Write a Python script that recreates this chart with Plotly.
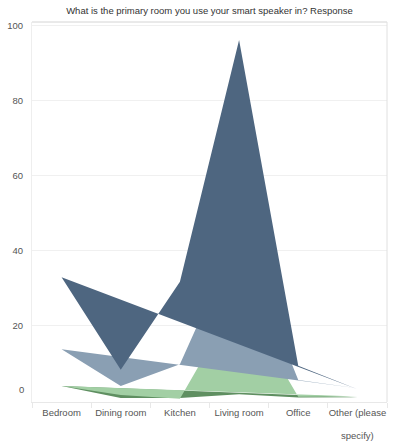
import plotly.graph_objects as go

categories = ["Bedroom", "Dining room", "Kitchen", "Living room", "Office", "Other (please specify)"]
tick_labels = ["Bedroom", "Dining room", "Kitchen", "Living room", "Office", "Other (please"]
tick_label_continuation = "specify)"

series_dark_green = [4.0, 0.8, 0.8, 1.8, 0.9, 1.0]
series_light_green = [4.0, 1.6, 0.6, 28.0, 1.1, 1.2]
series_light_slate = [13.8, 4.0, 9.8, 45.0, 5.6, 3.4]
series_dark_slate = [33.0, 8.3, 31.8, 96.2, 9.4, 3.1]

colors = {
    "dark_green": "#5f8f61",
    "light_green": "#a2cfa4",
    "light_slate": "#8a9fb3",
    "dark_slate": "#4e6680",
}

fig = go.Figure()
for name, vals in [("dark_green", series_dark_green), ("light_green", series_light_green),
                   ("light_slate", series_light_slate), ("dark_slate", series_dark_slate)]:
    fig.add_trace(go.Scatter(
        x=categories, y=vals, mode="lines", fill="toself",
        fillcolor=colors[name], line=dict(width=0, color=colors[name]),
        showlegend=False, hoverinfo="skip",
    ))

font_family = "Liberation Sans, Arial, sans-serif"

fig.update_layout(
    width=393, height=443,
    margin=dict(l=32, r=6, t=22, b=41, autoexpand=False),
    paper_bgcolor="white", plot_bgcolor="white",
    font=dict(family=font_family, size=9.5, color="#555"),
    title=dict(text="What is the primary room you use your smart speaker in? Response",
               x=0.5, xref="paper", xanchor="center", y=1, yref="container",
               yanchor="top", pad=dict(t=7),
               font=dict(family=font_family, size=9.5, color="#333")),
    xaxis=dict(
        type="category", categoryorder="array", categoryarray=categories,
        tickmode="array", tickvals=categories, ticktext=tick_labels,
        range=[-0.5, 5.5], showgrid=False, zeroline=False, automargin=False,
        tickangle=0,
        showline=True, linecolor="#e8e8e8", linewidth=1,
        ticks="outside", tickson="boundaries", ticklen=5, tickcolor="#e8e8e8",
        ticklabelstandoff=2,
        tickfont=dict(size=9.5, color="#555"),
    ),
    yaxis=dict(
        range=[-0.27, 101.0], tickmode="array", tickvals=[20, 40, 60, 80, 100],
        showgrid=True, gridcolor="#f0f0f0", gridwidth=1, zeroline=False,
        automargin=False,
        showline=True, linecolor="#eeeeee", linewidth=1,
        ticks="", ticklabelstandoff=6,
        tickfont=dict(size=9.5, color="#555"),
    ),
    shapes=[
        dict(type="line", xref="paper", yref="paper", x0=0, x1=1, y0=1, y1=1,
             line=dict(color="#d4d4d4", width=1)),
        dict(type="line", xref="paper", yref="paper", x0=1, x1=1, y0=0, y1=1,
             line=dict(color="#e0e0e0", width=1)),
    ],
    annotations=[
        dict(text="0", xref="paper", yref="y", x=0, y=0, xanchor="right",
             yanchor="middle", xshift=-6, yshift=11, showarrow=False,
             font=dict(family=font_family, size=9.5, color="#555")),
        dict(text=tick_label_continuation, xref="x", yref="paper",
             x=categories[-1], y=0, xanchor="center", yanchor="middle",
             yshift=-33, showarrow=False,
             font=dict(family=font_family, size=9.5, color="#555")),
    ],
)

fig.write_html(
    "out.html",
    config={"displayModeBar": False},
    post_script="document.body.style.margin='0px';document.body.style.overflow='hidden';",
)
